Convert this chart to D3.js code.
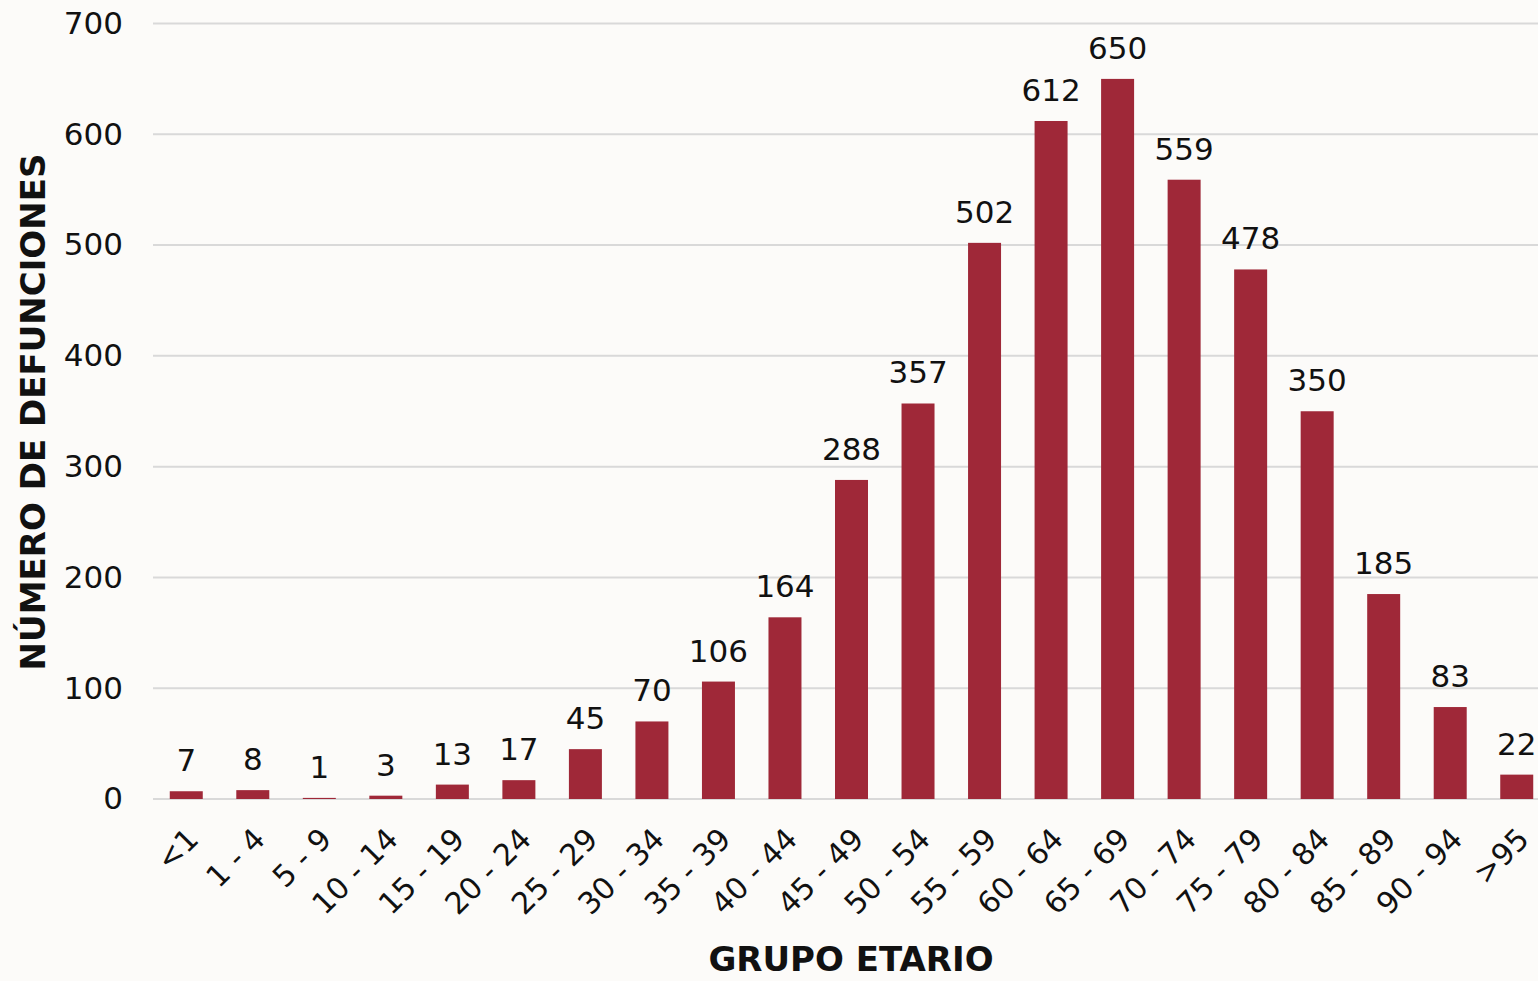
<!DOCTYPE html>
<html>
<head>
<meta charset="utf-8">
<script src="https://cdn.jsdelivr.net/npm/d3@7"></script>
<style>
  body { margin: 0; background: #fcfbf9; }
  text { font-family: "DejaVu Sans", sans-serif; fill: #111; }
</style>
</head>
<body>
<div id="chart"></div>
<script>
// age groups and deaths
var grupos = ['<1', '1 - 4', '5 - 9', '10 - 14', '15 - 19', '20 - 24', '25 - 29', '30 - 34', '35 - 39',
    '40 - 44', '45 - 49', '50 - 54', '55 - 59', '60 - 64', '65 - 69', '70 - 74', '75 - 79',
    '80 - 84', '85 - 89', '90 - 94', '>95'];
var defunciones = [7, 8, 1, 3, 13, 17, 45, 70, 106, 164, 288, 357, 502, 612, 650, 559, 478, 350, 185, 83, 22];
var yTicks = [0, 100, 200, 300, 400, 500, 600, 700];

var svgWidth = 1538;
var svgHeight = 981;

var data = grupos.map(function(g, i) { return {grupo: g, valor: defunciones[i]}; });

var svg = d3.select('#chart')
    .append('svg')
    .attr('width', svgWidth)
    .attr('height', svgHeight);

// scales
var xScale = d3.scaleBand()
    .domain(grupos)
    .range([153, 1550])
    .paddingInner(0.504)
    .paddingOuter(0.252);

var yScale = d3.scaleLinear()
    .domain([0, 700])
    .range([799, 23.5]);

// gridlines
svg.append('g')
    .selectAll('line')
    .data(yTicks)
    .enter()
    .append('line')
        .attr('x1', 153)
        .attr('x2', svgWidth)
        .attr('y1', d => yScale(d))
        .attr('y2', d => yScale(d))
        .attr('stroke', '#d9d9d9')
        .attr('stroke-width', 2);

// y axis labels
var leftAxis = d3.axisLeft(yScale).tickValues(yTicks).tickSize(0).tickPadding(0);
var yAxisG = svg.append('g')
    .attr('transform', 'translate(123,0)')
    .call(leftAxis);
yAxisG.select('.domain').remove();
yAxisG.selectAll('text')
    .attr('font-family', 'DejaVu Sans')
    .style('font-size', '31px')
    .attr('fill', '#111');

// bars
svg.selectAll('.bar')
    .data(data)
    .enter()
    .append('rect')
        .attr('class', 'bar')
        .attr('x', d => xScale(d.grupo))
        .attr('y', d => yScale(d.valor))
        .attr('width', xScale.bandwidth())
        .attr('height', d => yScale(0) - yScale(d.valor))
        .attr('fill', '#9f2838');

// value labels
svg.selectAll('.valtext')
    .data(data)
    .enter()
    .append('text')
        .attr('class', 'valtext')
        .attr('x', d => xScale(d.grupo) + xScale.bandwidth() / 2)
        .attr('y', d => yScale(d.valor) - 20)
        .attr('text-anchor', 'middle')
        .style('font-size', '31px')
        .text(d => d.valor);

// x axis labels
var bottomAxis = d3.axisBottom(xScale).tickSize(0).tickPadding(0);
var xAxisG = svg.append('g')
    .attr('transform', 'translate(0,799)')
    .call(bottomAxis);
xAxisG.select('.domain').remove();
xAxisG.selectAll('text')
    .attr('font-family', 'DejaVu Sans')
    .style('font-size', '30px')
    .attr('fill', '#111')
    .attr('text-anchor', 'end')
    .attr('dy', 0)
    .attr('y', 0)
    .attr('transform', 'translate(14,42) rotate(-45)');

// axis titles
svg.append('text')
    .attr('transform', 'translate(45,412) rotate(-90)')
    .attr('text-anchor', 'middle')
    .style('font-size', '34px')
    .style('font-weight', 'bold')
    .text('NÚMERO DE DEFUNCIONES');

svg.append('text')
    .attr('x', 851)
    .attr('y', 971)
    .attr('text-anchor', 'middle')
    .style('font-size', '34px')
    .style('font-weight', 'bold')
    .text('GRUPO ETARIO');
</script>
</body>
</html>
